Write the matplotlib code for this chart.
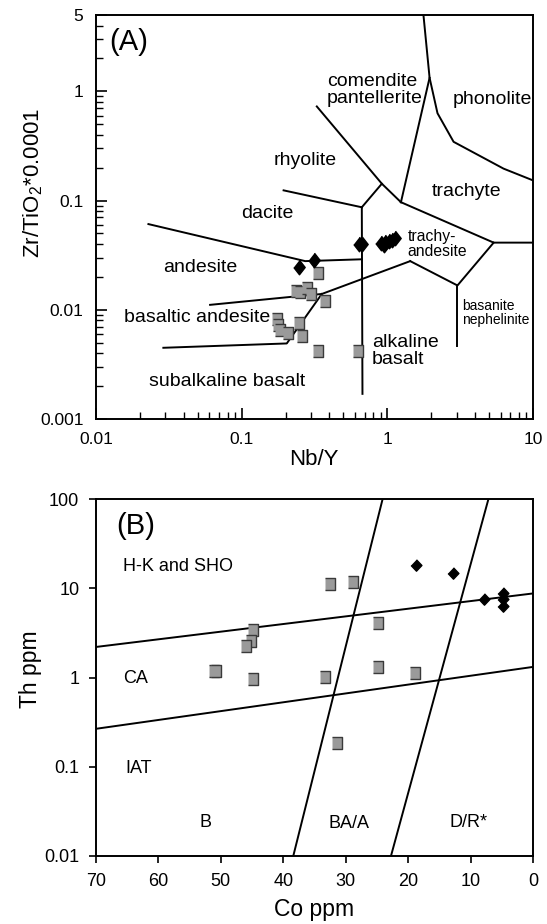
import matplotlib
matplotlib.use("Agg")
import matplotlib.pyplot as plt
from matplotlib.ticker import NullFormatter, NullLocator

plt.rcParams.update({"font.family": "Liberation Sans", "mathtext.default": "regular"})

# ---- panel A: Nb/Y vs Zr/TiO2*0.0001 (Winchester & Floyd) ----
sq_nby = [0.333, 0.237, 0.252, 0.280, 0.299, 0.374, 0.176, 0.179, 0.184, 0.209, 0.248, 0.261, 0.336, 0.628]
sq_zr = [0.0215, 0.0150, 0.0146, 0.0158, 0.0139, 0.0121, 0.0083, 0.0073, 0.0065, 0.0061, 0.0075, 0.0057, 0.0042, 0.0042]
di_nby = [0.249, 0.316, 0.634, 0.668, 0.908, 0.942, 0.967, 1.019, 1.074, 1.133]
di_zr = [0.0248, 0.0283, 0.0404, 0.0404, 0.0412, 0.0393, 0.0421, 0.0428, 0.0434, 0.0452]

fields_a = [
    [(1.77, 5), (1.95, 1.33), (2.21, 0.63), (2.85, 0.345), (6.28, 0.196), (10, 0.153)],
    [(1.95, 1.33), (1.24, 0.0966)],
    [(0.328, 0.727), (0.917, 0.1426), (1.24, 0.0966)],
    [(0.917, 0.1426), (0.668, 0.0868)],
    [(0.194, 0.124), (0.668, 0.0868)],
    [(0.668, 0.0868), (0.675, 0.0017)],
    [(0.0229, 0.0609), (0.273, 0.0279), (0.668, 0.029)],
    [(0.0607, 0.0111), (0.227, 0.0132), (0.355, 0.01396), (1.436, 0.0279)],
    [(0.029, 0.00449), (0.204, 0.00492), (0.355, 0.01396)],
    [(1.436, 0.0279), (3.03, 0.0167), (5.37, 0.0412)],
    [(1.24, 0.0966), (5.37, 0.0412), (10, 0.0412)],
    [(3.03, 0.0167), (3.03, 0.00466)],
]
labels_a = [
    ("comendite\npantellerite", 0.385, 1.02, "left", 14),
    ("phonolite", 5.23, 0.85, "center", 14),
    ("rhyolite", 0.273, 0.231, "center", 14),
    ("trachyte", 3.52, 0.121, "center", 14),
    ("dacite", 0.149, 0.0763, "center", 14),
    ("trachy-\nandesite", 1.38, 0.0404, "left", 11.3),
    ("andesite", 0.0517, 0.0242, "center", 14),
    ("basaltic andesite", 0.0492, 0.0085, "center", 14),
    ("alkaline\nbasalt", 0.783, 0.00422, "left", 14),
    ("subalkaline basalt", 0.079, 0.00221, "center", 14),
    ("basanite\nnephelinite", 3.28, 0.00925, "left", 10),
]

# ---- panel B: Co vs Th ----
sq_co = [32.5, 28.9, 24.8, 44.9, 45.1, 46.0, 51.05, 50.7, 44.9, 33.3, 24.9, 18.9, 31.45]
sq_th = [11.1, 11.9, 4.15, 3.4, 2.56, 2.26, 1.18, 1.18, 0.96, 1.02, 1.32, 1.13, 0.186]
di_co = [18.74, 12.76, 7.85, 4.75, 4.75, 4.75]
di_th = [18.3, 15.1, 7.6, 9.0, 7.7, 6.3]

fields_b = [
    [(70, 2.21), (0, 8.8)],
    [(70, 0.267), (0, 1.32)],
    [(38.4, 0.01), (24.1, 100)],
    [(22.75, 0.01), (7.15, 100)],
]
labels_b = [
    ("H-K and SHO", 65.7, 17.8, "left"),
    ("CA", 65.7, 0.98, "left"),
    ("IAT", 65.3, 0.096, "left"),
    ("B", 52.4, 0.024, "center"),
    ("BA/A", 29.4, 0.023, "center"),
    ("D/R*", 10.4, 0.024, "center"),
]

SQ = [(-0.83, -1), (0.83, -1), (0.83, 1), (-0.83, 1)]
DIA_A = [(0, 1), (0.78, 0), (0, -1), (-0.78, 0)]
DIA_B = [(0, 1), (0.95, 0), (0, -1), (-0.95, 0)]
sq_style = dict(ls="none", marker=SQ, ms=8.3, mfc="#9a9a9a", mec="#3a3a3a", mew=1.0, zorder=4)


def main():
    fig = plt.figure(figsize=(5.47, 9.24), dpi=100)
    axa = fig.add_axes([0.1755, 0.5465, 0.7989, 0.4373])
    axb = fig.add_axes([0.1755, 0.0736, 0.7989, 0.3860])

    # panel A
    axa.set_xscale("log"); axa.set_yscale("log")
    axa.set_xlim(0.01, 10); axa.set_ylim(0.001, 5)
    for seg in fields_a:
        axa.plot([p[0] for p in seg], [p[1] for p in seg], color="black", lw=1.4, zorder=2)
    axa.plot(sq_nby, sq_zr, **sq_style)
    axa.plot(di_nby, di_zr, ls="none", marker=DIA_A, ms=10.5, mfc="black", mec="black", zorder=5)
    for txt, x, y, ha, fs in labels_a:
        axa.text(x, y, txt, ha=ha, va="center", fontsize=fs, linespacing=1.0)
    axa.text(0.0123, 2.83, "(A)", fontsize=21, ha="left", va="center")
    axa.set_xticks([0.01, 0.1, 1, 10], labels=["0.01", "0.1", "1", "10"])
    axa.set_yticks([0.001, 0.01, 0.1, 1, 5], labels=["0.001", "0.01", "0.1", "1", "5"])
    axa.xaxis.set_minor_formatter(NullFormatter()); axa.yaxis.set_minor_formatter(NullFormatter())
    axa.tick_params(which="major", direction="in", length=8, width=1.2, labelsize=12.5, pad=9)
    axa.tick_params(which="minor", direction="in", length=5, width=1.0)
    axa.set_xlabel("Nb/Y", fontsize=16, va="center")
    axa.xaxis.set_label_coords(0.499, -0.10)
    axa.set_ylabel("Zr/TiO$_2$*0.0001", fontsize=16, va="center")
    axa.yaxis.set_label_coords(-0.144, 0.584)

    # panel B
    axb.set_yscale("log")
    axb.set_xlim(70, 0); axb.set_ylim(0.01, 100)
    for seg in fields_b:
        axb.plot([p[0] for p in seg], [p[1] for p in seg], color="black", lw=1.4, zorder=2)
    axb.plot(sq_co, sq_th, **sq_style)
    axb.plot(di_co, di_th, ls="none", marker=DIA_B, ms=8.2, mfc="black", mec="black", zorder=5)
    for txt, x, y, ha in labels_b:
        axb.text(x, y, txt, ha=ha, va="center", fontsize=13)
    axb.text(66.8, 50, "(B)", fontsize=21, ha="left", va="center")
    axb.set_xticks([70, 60, 50, 40, 30, 20, 10, 0])
    axb.set_yticks([0.01, 0.1, 1, 10, 100], labels=["0.01", "0.1", "1", "10", "100"])
    axb.yaxis.set_minor_locator(NullLocator())
    axb.tick_params(which="major", direction="out", length=5, width=1.2, labelsize=13, pad=7)
    axb.set_xlabel("Co ppm", fontsize=16.5, va="center")
    axb.xaxis.set_label_coords(0.499, -0.149)
    axb.set_ylabel("Th ppm", fontsize=16.5, va="center")
    axb.yaxis.set_label_coords(-0.151, 0.524)

    for ax in (axa, axb):
        for s in ax.spines.values():
            s.set_linewidth(1.4)

    fig.savefig("out.png", dpi=100)
    plt.close(fig)


if __name__ == "__main__": main()
